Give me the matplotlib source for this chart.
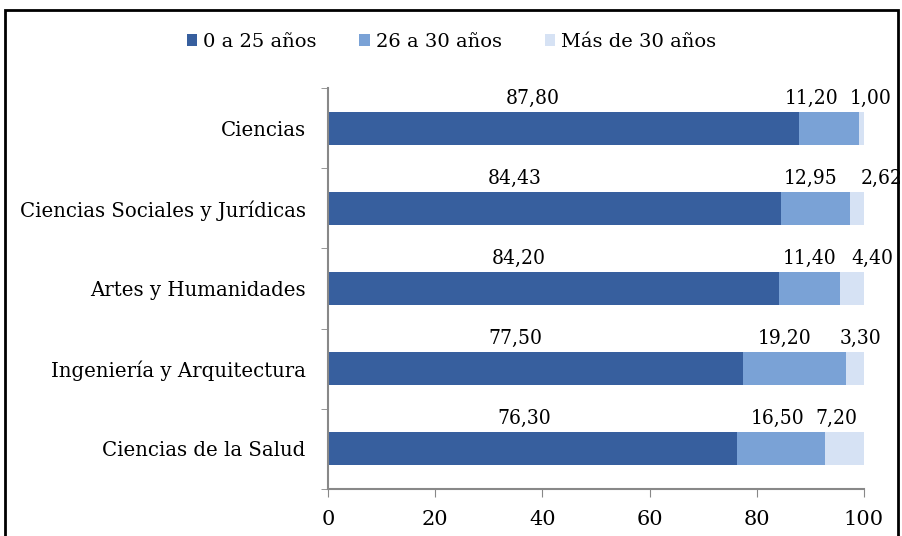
import matplotlib.pyplot as plt
from matplotlib.patches import Rectangle

categorias = ['Ciencias', 'Ciencias Sociales y Jurídicas', 'Artes y Humanidades',
              'Ingeniería y Arquitectura', 'Ciencias de la Salud']
hasta_25 = [87.80, 84.43, 84.20, 77.50, 76.30]
de_26_a_30 = [11.20, 12.95, 11.40, 19.20, 16.50]
mas_de_30 = [1.00, 2.62, 4.40, 3.30, 7.20]
series = ['0 a 25 años', '26 a 30 años', 'Más de 30 años']
colores = ['#375F9E', '#7AA2D6', '#D6E2F4']

# ajuste manual (px) de las etiquetas, como en el original
ajuste = [[-31, -40, -35, -20, -8],
          [-17, -5, 0, -10, -4],
          [9, 25, 20, 5, -8]]

plt.rcParams['font.family'] = ['DejaVu Serif']

fig = plt.figure(figsize=(9.03, 5.36), dpi=100)
ax = fig.add_axes([0.3632, 0.0877, 0.5936, 0.748])

ypos = list(range(len(categorias)))
alto = 0.41
izq = [0] * len(categorias)
for k, vals in enumerate([hasta_25, de_26_a_30, mas_de_30]):
    ax.barh(ypos, vals, left=izq, height=alto, color=colores[k], label=series[k])
    for i, v in enumerate(vals):
        xc = izq[i] + v / 2
        ax.annotate(f'{v:.2f}'.replace('.', ','), (xc, i - alto / 2),
                    xytext=(ajuste[k][i] * 0.72, 3), textcoords='offset points',
                    ha='center', va='bottom', fontsize=15,
                    fontstretch='condensed', annotation_clip=False)
    izq = [a + b for a, b in zip(izq, vals)]

ax.set_xlim(0, 100)
ax.set_ylim(4.5, -0.5)
ax.set_xticks(range(0, 101, 20))
ax.set_yticks(ypos)
ax.set_yticklabels(categorias, fontsize=14.2)
ax.set_yticks([i - 0.5 for i in range(len(categorias) + 1)], minor=True)
ax.tick_params(axis='y', which='major', length=0, pad=16)
ax.tick_params(axis='y', which='minor', length=5, color='#888888')
ax.tick_params(axis='x', length=6, color='#888888', labelsize=15, pad=9)
for s in ['top', 'right']:
    ax.spines[s].set_visible(False)
for s in ['left', 'bottom']:
    ax.spines[s].set_color('#888888')
    ax.spines[s].set_linewidth(1.5)

fig.legend(loc='center', bbox_to_anchor=(0.5, 0.922), ncol=3, frameon=False,
           fontsize=14, handlelength=0.55, handleheight=0.55, handletextpad=0.3,
           columnspacing=2.2)

fig.patches.append(Rectangle((5 / 903, -0.05), 893 / 903, (526 / 536) + 0.05,
                             transform=fig.transFigure, fill=False,
                             edgecolor='black', linewidth=2))

fig.savefig('out.png', dpi=100)
